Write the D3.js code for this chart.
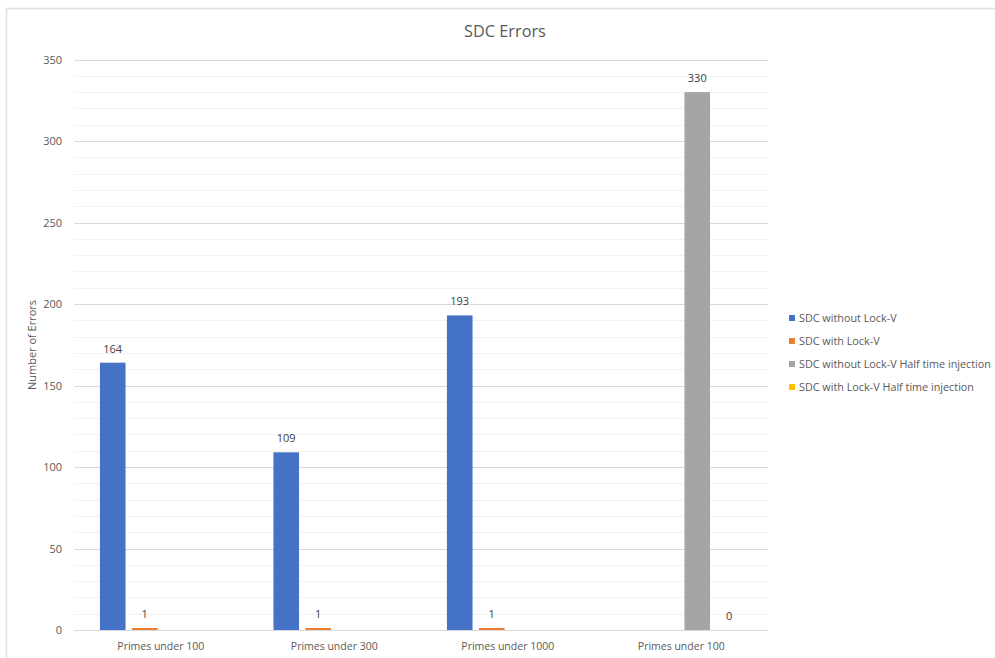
<!DOCTYPE html>
<html><head><meta charset="utf-8">
<script src="https://cdn.jsdelivr.net/npm/d3@7"></script>
<style>body{margin:0;background:#fff;}svg{display:block;font-family:"Open Sans",Lato,sans-serif;}</style>
</head><body>
<svg id="chart" width="995" height="658"></svg>
<script>
const categories = ["Primes under 100", "Primes under 300", "Primes under 1000", "Primes under 100"];
const seriesNames = ["SDC without Lock-V", "SDC with Lock-V", "SDC without Lock-V Half time injection", "SDC with Lock-V Half time injection"];
const seriesColors = ["#4472C4", "#ED7D31", "#A5A5A5", "#FFC000"];
const sdcWithout = [164, 109, 193, null];
const sdcWith = [1, 1, 1, null];
const sdcWithoutHalf = [null, null, null, 330];
const sdcWithHalf = [null, null, null, 0];
const yTicks = [0, 50, 100, 150, 200, 250, 300, 350];
const title = "SDC Errors";
const yTitle = "Number of Errors";

(function(){
const series = [sdcWithout, sdcWith, sdcWithoutHalf, sdcWithHalf];
const svg = d3.select("#chart");
const pL = 74, pR = 768, pT = 59.5, pB = 630;

// chart border
svg.append("path").attr("d", "M6.5,660 V8.5 H995").attr("fill", "none").attr("stroke", "#e0e0e0").attr("stroke-width", 1.5);

const y = d3.scaleLinear().domain([0, 350]).range([pB, pT]);
const x0 = d3.scaleBand().domain(d3.range(categories.length)).range([pL, pR]).paddingInner(0).paddingOuter(0);
const x1 = d3.scaleBand().domain(d3.range(series.length)).range([0, x0.bandwidth()]).paddingInner(0.2).paddingOuter(0.81);

// minor grid
svg.append("g").selectAll("line").data(d3.range(0, 351, 10).filter(v => v % 50 !== 0)).join("line")
  .attr("x1", pL).attr("x2", pR).attr("y1", d => Math.round(y(d)) + 0.5).attr("y2", d => Math.round(y(d)) + 0.5)
  .attr("stroke", "#f2f2f2").attr("stroke-width", 1);
// major grid
svg.append("g").selectAll("line").data(yTicks.filter(v => v > 0)).join("line")
  .attr("x1", pL).attr("x2", pR).attr("y1", d => Math.round(y(d)) + 0.5).attr("y2", d => Math.round(y(d)) + 0.5)
  .attr("stroke", "#d9d9d9").attr("stroke-width", 1);

// y axis labels
const yAxis = d3.axisLeft(y).tickValues(yTicks).tickSize(0).tickPadding(12);
const ga = svg.append("g").attr("transform", `translate(${pL},0)`).call(yAxis);
ga.select(".domain").remove();
ga.selectAll("text").attr("font-size", 11).attr("fill", "#595959").attr("font-family", "'Open Sans',sans-serif");

// bars
const groups = svg.append("g").selectAll("g").data(categories).join("g")
  .attr("transform", (d, i) => `translate(${x0(i)},0)`);
series.forEach((s, si) => {
  groups.each(function(c, ci) {
    const v = s[ci];
    if (v === null || v === undefined) return;
    const g = d3.select(this);
    const h = Math.max(pB - y(v), v > 0 ? 2 : 0);
    g.append("rect").attr("x", x1(si)).attr("y", pB - h).attr("width", x1.bandwidth()).attr("height", h)
      .attr("fill", seriesColors[si]);
    g.append("text").attr("x", x1(si) + x1.bandwidth() / 2).attr("y", pB - h - 10)
      .attr("text-anchor", "middle").attr("font-size", 11).attr("fill", "#404040").text(v);
  });
});

// x axis line
svg.append("line").attr("x1", pL).attr("x2", pR).attr("y1", pB + 0.5).attr("y2", pB + 0.5)
  .attr("stroke", "#d9d9d9").attr("stroke-width", 1);
// x labels
svg.append("g").selectAll("text").data(categories).join("text")
  .attr("x", (d, i) => x0(i) + x0.bandwidth() / 2).attr("y", 650)
  .attr("text-anchor", "middle").attr("font-size", 10.5).attr("fill", "#595959").text(d => d);

// title
svg.append("text").attr("x", 505).attr("y", 37).attr("text-anchor", "middle")
  .attr("font-size", 16.3).attr("fill", "#595959").text(title);
// y title
svg.append("text").attr("transform", "translate(36,345) rotate(-90)").attr("text-anchor", "middle")
  .attr("font-size", 11).attr("fill", "#595959").text(yTitle);

// legend
const lg = svg.append("g").selectAll("g").data(seriesNames).join("g")
  .attr("transform", (d, i) => `translate(789,${318 + i * 23})`);
lg.append("rect").attr("x", 0).attr("y", -3).attr("width", 6).attr("height", 6).attr("fill", (d, i) => seriesColors[i]);
lg.append("text").attr("x", 10).attr("y", 3.8).attr("font-size", 10.8).attr("fill", "#595959").text(d => d);
})();
</script>
</body></html>
